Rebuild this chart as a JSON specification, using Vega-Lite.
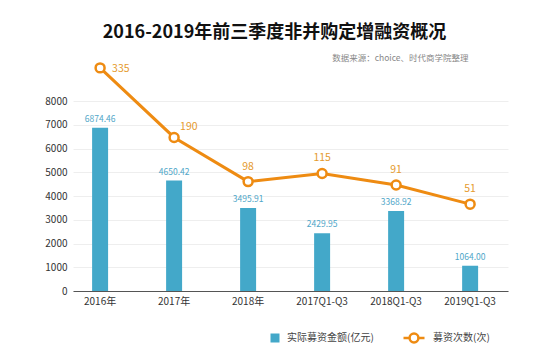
{
  "$schema": "https://vega.github.io/schema/vega-lite/v6.json",
  "autosize": {"type": "none"},
  "width": 435,
  "height": 190,
  "padding": {"left": 73, "top": 101, "right": 46, "bottom": 64},
  "background": "white",
  "config": {
    "font": "Noto Sans CJK SC",
    "view": {"stroke": null}
  },
  "title": {
    "text": "2016-2019年前三季度非并购定增融资概况",
    "fontSize": 18,
    "fontWeight": "bold",
    "color": "#111111",
    "anchor": "middle",
    "dx": -16,
    "offset": 11
  },
  "data": {
    "values": [
      {"period": "2016年", "amount": 6874.46, "count": 335},
      {"period": "2017年", "amount": 4650.42, "count": 190},
      {"period": "2018年", "amount": 3495.91, "count": 98},
      {"period": "2017Q1-Q3", "amount": 2429.95, "count": 115},
      {"period": "2018Q1-Q3", "amount": 3368.92, "count": 91},
      {"period": "2019Q1-Q3", "amount": 1064.00, "count": 51}
    ]
  },
  "encoding": {
    "x": {
      "field": "period",
      "type": "nominal",
      "sort": null,
      "scale": {"paddingInner": 0.784, "paddingOuter": 0.331, "align": 0.39},
      "axis": {
        "title": null,
        "labelAngle": 0,
        "labelFontSize": 10,
        "labelColor": "#333333",
        "labelPadding": 5,
        "ticks": false,
        "domainColor": "#555555",
        "domainWidth": 1.2,
        "grid": false
      }
    }
  },
  "layer": [
    {
      "encoding": {
        "y": {
          "field": "amount",
          "type": "quantitative",
          "scale": {"domain": [0, 8000], "nice": false},
          "axis": {
            "title": null,
            "values": [0, 1000, 2000, 3000, 4000, 5000, 6000, 7000, 8000],
            "format": "d",
            "labelOverlap": false,
            "labelFontSize": 10,
            "labelColor": "#333333",
            "labelPadding": 6,
            "ticks": false,
            "domain": false,
            "gridColor": "#eeeeee",
            "gridWidth": 1
          }
        }
      },
      "layer": [
        {
          "mark": {"type": "bar"},
          "encoding": {
            "color": {
              "datum": "实际募资金额(亿元)",
              "type": "nominal",
              "scale": {"range": ["#43a8c9"]},
              "legend": {
                "title": null,
                "orient": "none",
                "legendX": 197,
                "legendY": 232,
                "symbolType": "square",
                "symbolSize": 81,
                "symbolStrokeWidth": 0,
                "labelFontSize": 10,
                "labelColor": "#444444",
                "labelOffset": 7
              }
            }
          }
        },
        {
          "mark": {"type": "text", "dy": -4, "baseline": "bottom", "fontSize": 8.5, "color": "#4fa6c8"},
          "encoding": {
            "text": {"field": "amount", "type": "quantitative", "format": ".2f"}
          }
        }
      ]
    },
    {
      "encoding": {
        "y": {
          "field": "count",
          "type": "quantitative",
          "scale": {"domain": [-130, 266], "nice": false, "zero": false},
          "axis": {
            "orient": "right",
            "labels": false,
            "ticks": false,
            "domain": false,
            "grid": false,
            "title": "数据来源：choice、时代商学院整理",
            "titleAngle": 0,
            "titleAlign": "right",
            "titleBaseline": "alphabetic",
            "titleFontSize": 8.5,
            "titleFontWeight": "normal",
            "titleColor": "#888888",
            "titleX": -40,
            "titleY": -41
          }
        }
      },
      "layer": [
        {
          "mark": {"type": "line", "strokeWidth": 3},
          "encoding": {
            "stroke": {
              "datum": "募资次数(次)",
              "type": "nominal",
              "scale": {"range": ["#ee8b12"]},
              "legend": {
                "title": null,
                "orient": "none",
                "legendX": 329,
                "legendY": 225,
                "symbolType": "M-1,0L-0.42,0M0.42,0L1,0M0.42,0A0.42,0.42 0 1,1 -0.42,0A0.42,0.42 0 1,1 0.42,0",
                "symbolSize": 441,
                "symbolStrokeWidth": 2.5,
                "symbolFillColor": "white",
                "labelFontSize": 10,
                "labelColor": "#444444",
                "labelOffset": 7,
                "encode": {"symbols": {"update": {"fill": {"value": "white"}}}}
              }
            }
          }
        },
        {
          "mark": {"type": "point", "shape": "circle", "filled": true, "fill": "white", "stroke": "#ee8b12", "strokeWidth": 2.5, "size": 80, "opacity": 1}
        },
        {
          "transform": [{"filter": "datum.period == '2016年'"}],
          "mark": {"type": "text", "align": "left", "baseline": "middle", "dx": 12, "dy": 1, "fontSize": 10.5, "color": "#e59a2e"},
          "encoding": {"text": {"field": "count", "type": "quantitative"}}
        },
        {
          "transform": [{"filter": "datum.period == '2017年'"}],
          "mark": {"type": "text", "align": "left", "baseline": "middle", "dx": 6, "dy": -10, "fontSize": 10.5, "color": "#e59a2e"},
          "encoding": {"text": {"field": "count", "type": "quantitative"}}
        },
        {
          "transform": [{"filter": "datum.period != '2016年' && datum.period != '2017年'"}],
          "mark": {"type": "text", "align": "center", "baseline": "middle", "dy": -15, "fontSize": 10.5, "color": "#e59a2e"},
          "encoding": {"text": {"field": "count", "type": "quantitative"}}
        }
      ]
    }
  ],
  "resolve": {"scale": {"y": "independent"}}
}
